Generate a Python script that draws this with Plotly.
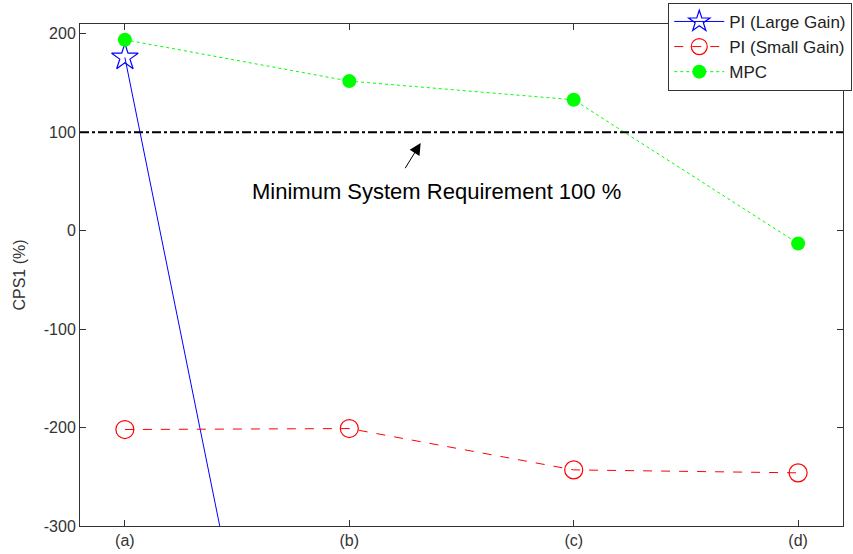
import plotly.graph_objects as go

# Test cases and CPS1 results for each controller
cases = ["(a)", "(b)", "(c)", "(d)"]
x_pos = [1, 2, 3, 4]
pi_large = [176, -950, -1600, -1900]
pi_small = [-202, -201, -243, -246]
mpc = [194, 152, 133, -13]
requirement = 100

y_ticks = [-300, -200, -100, 0, 100, 200]
y_tick_labels = [str(v) for v in y_ticks]

FONT = "Liberation Sans, Arial"

fig = go.Figure()

fig.add_trace(go.Scatter(
    x=x_pos, y=pi_large, name="PI (Large Gain)", mode="lines+markers",
    line=dict(color="#0000ff", width=1),
    marker=dict(symbol="star-open", size=20, color="#0000ff", line=dict(width=1.2)),
))
fig.add_trace(go.Scatter(
    x=x_pos, y=pi_small, name="PI (Small Gain)", mode="lines+markers",
    line=dict(color="#ff0000", width=1, dash="dash"),
    marker=dict(symbol="circle-open", size=18, color="#ff0000", line=dict(width=1.2)),
))
fig.add_trace(go.Scatter(
    x=x_pos, y=mpc, name="MPC", mode="lines+markers",
    line=dict(color="#00ff00", width=1, dash="dot"),
    marker=dict(symbol="circle", size=14, color="#00ff00"),
))

# Minimum system requirement line
fig.add_shape(type="line", xref="paper", x0=0, x1=1, yref="y", y0=requirement, y1=requirement,
              line=dict(color="black", width=2.2, dash="dashdot"))

fig.add_annotation(x=2.318, y=89, ax=2.245, ay=62, xref="x", yref="y", axref="x", ayref="y",
                   showarrow=True, arrowhead=2, arrowsize=2.3, arrowwidth=1.0, arrowcolor="black",
                   text="")
fig.add_annotation(x=2.39, y=40, xref="x", yref="y", showarrow=False,
                   text=f"Minimum System Requirement {requirement} %",
                   font=dict(family=FONT, size=22, color="black"))

axis_common = dict(showline=True, linecolor="#333333", linewidth=1, mirror="ticks",
                   ticks="inside", ticklen=6, tickcolor="#333333", showgrid=False,
                   zeroline=False,
                   tickfont=dict(family=FONT, size=16, color="#333333"))

fig.update_xaxes(range=[0.8, 4.2], tickvals=x_pos, ticktext=cases, **axis_common)
fig.update_yaxes(range=[-300, 210], tickvals=y_ticks, ticktext=y_tick_labels,
                 title=dict(text="CPS1 (%)", standoff=14,
                            font=dict(family=FONT, size=16, color="#333333")),
                 **axis_common)

fig.update_layout(
    width=853, height=554,
    margin=dict(l=80, r=10, t=24, b=28, autoexpand=False),
    paper_bgcolor="white", plot_bgcolor="white",
    showlegend=True,
    legend=dict(x=0.771, y=1.042, xanchor="left", yanchor="top",
                bgcolor="white", bordercolor="#333333", borderwidth=1,
                font=dict(family=FONT, size=17, color="#222222"),
                tracegroupgap=0, itemwidth=50),
)

fig.write_html("out.html")
